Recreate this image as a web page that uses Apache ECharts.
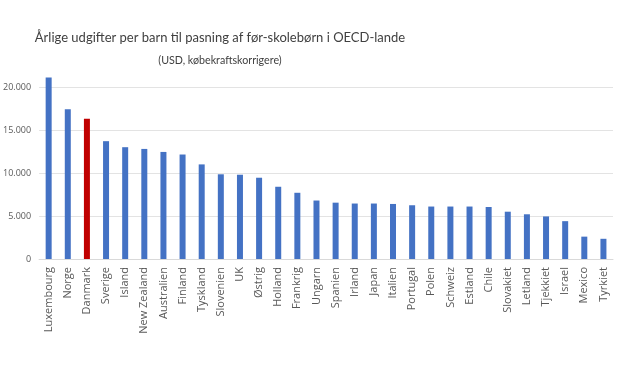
<!DOCTYPE html>
<html><head><meta charset="utf-8">
<script src="https://cdn.jsdelivr.net/npm/echarts@6/dist/echarts.min.js"></script>
<style>html,body{margin:0;padding:0;background:#fff}#c{width:620px;height:372px}</style>
</head><body><div id="c"></div>
<script>
const titleText = 'Årlige udgifter per barn til pasning af før-skolebørn i OECD-lande';
const subtitleText = '(USD, købekraftskorrigere)';
const countries = ['Luxembourg','Norge','Danmark','Sverige','Island','New Zealand','Australien','Finland','Tyskland','Slovenien','UK','Østrig','Holland','Frankrig','Ungarn','Spanien','Irland','Japan','Italien','Portugal','Polen','Schweiz','Estland','Chile','Slovakiet','Letland','Tjekkiet','Israel','Mexico','Tyrkiet'];
const values = [21100,17400,16300,13700,13000,12800,12450,12150,11000,9850,9800,9450,8400,7700,6800,6550,6450,6450,6400,6250,6100,6100,6100,6050,5500,5200,4950,4400,2600,2350];
const highlight = 'Danmark';
const yTicks = [0,5000,10000,15000,20000];

const chart = echarts.init(document.getElementById('c'));
chart.setOption({
  animation:false,
  graphic:[
    {type:'text',x:220,y:38,style:{text:titleText,align:'center',verticalAlign:'middle',font:'normal 13px Lato',fill:'#404040'}},
    {type:'text',x:220,y:61,style:{text:subtitleText,align:'center',verticalAlign:'middle',font:'normal 10.7px Lato',fill:'#404040'}}
  ],
  grid:{left:37,right:7,top:87,bottom:113},
  xAxis:{type:'category',data:countries,
    axisLine:{lineStyle:{color:'#d9d9d9'}},axisTick:{show:false},
    axisLabel:{rotate:90,interval:0,margin:8,color:'#595959',fontSize:11,fontFamily:'Open Sans'}},
  yAxis:{type:'value',min:yTicks[0],max:yTicks[yTicks.length-1],interval:yTicks[1]-yTicks[0],
    axisLine:{show:false},axisTick:{show:false},
    splitLine:{lineStyle:{color:'#e3e3e3'}},
    axisLabel:{color:'#595959',fontSize:9,fontFamily:'Open Sans',margin:8,
      formatter:v=>v.toLocaleString('en-US').replace(/,/g,'.')}},
  series:[{type:'bar',clip:false,barWidth:6,
    data:countries.map((c,i)=>({value:values[i],itemStyle:{color:c===highlight?'#C00000':'#4472C4'}}))}]
});
</script></body></html>
